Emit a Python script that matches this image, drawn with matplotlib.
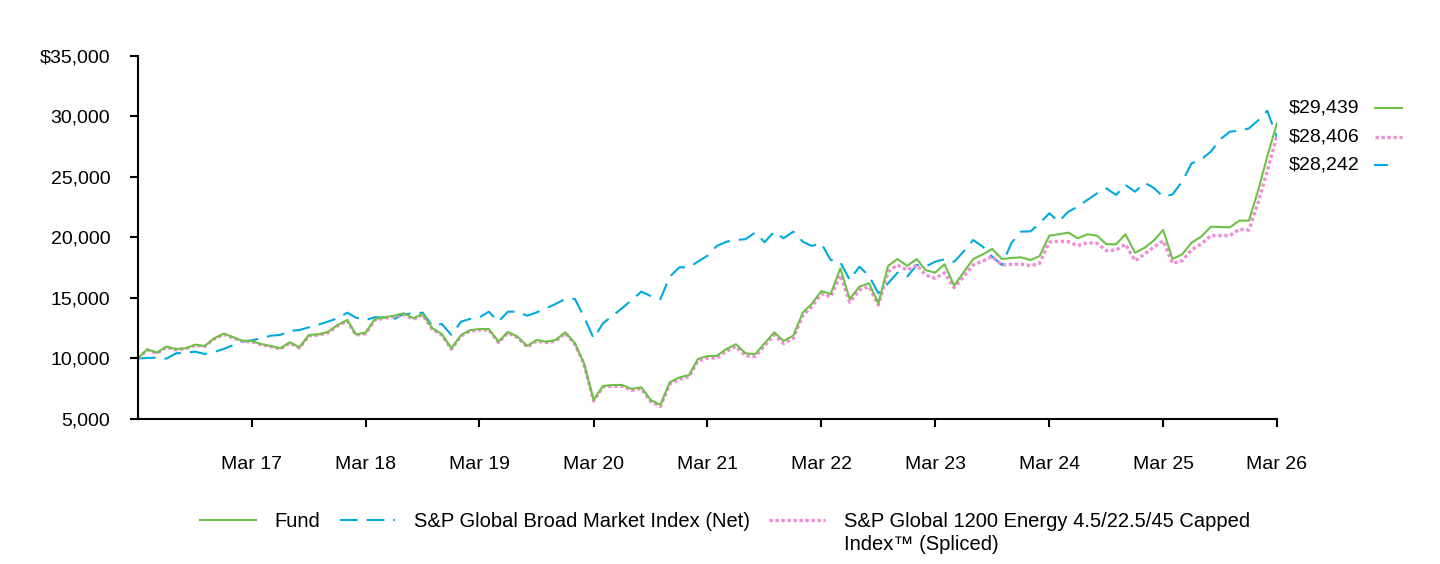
import numpy as np
import pandas as pd
import matplotlib
matplotlib.use('Agg')
import matplotlib.pyplot as plt
from matplotlib.lines import Line2D
from matplotlib.ticker import FuncFormatter

plt.rcParams['font.family'] = ['Liberation Sans', 'DejaVu Sans']

# monthly growth of $10,000, Mar 2016 - Mar 2026
months = pd.date_range('2016-03-31', periods=121, freq='ME')

fund = [
    10000, 10760, 10480, 10970, 10780, 10840, 11140, 11030, 11660, 12050,
    11750, 11470, 11440, 11190, 11030, 10840, 11330, 10920, 11940, 11990,
    12190, 12760, 13180, 11990, 12130, 13260, 13400, 13530, 13730, 13320,
    13670, 12490, 12020, 10840, 11940, 12330, 12430, 12430, 11390, 12190,
    11800, 11030, 11520, 11390, 11520, 12160, 11250, 9600, 6570, 7730,
    7810, 7810, 7480, 7620, 6570, 6160, 8030, 8440, 8630, 9950,
    10200, 10220, 10780, 11170, 10430, 10350, 11250, 12160, 11440, 11880,
    13800, 14500, 15560, 15330, 17450, 14910, 15930, 16200, 14550, 17640,
    18210, 17640, 18210, 17300, 17080, 17780, 16010, 17110, 18210, 18600,
    19040, 18210, 18300, 18350, 18130, 18460, 20140, 20250, 20390, 19920,
    20250, 20140, 19430, 19430, 20250, 18730, 19150, 19720, 20610, 18210,
    18600, 19560, 20060, 20880, 20850, 20830, 21380, 21380, 24000, 26700,
    29439,
]

broad_market = [
    10000, 10040, 10060, 9980, 10420, 10480, 10560, 10370, 10530, 10780,
    11110, 11380, 11500, 11660, 11880, 11940, 12270, 12350, 12570, 12790,
    13040, 13320, 13780, 13370, 13180, 13400, 13380, 13260, 13650, 13730,
    13780, 12680, 12850, 11940, 13040, 13260, 13400, 13860, 13040, 13860,
    13860, 13530, 13800, 14140, 14500, 14910, 14910, 13450, 11660, 12900,
    13530, 14140, 14830, 15520, 15160, 14890, 16750, 17530, 17530, 17990,
    18490, 19290, 19640, 19780, 19850, 20400, 19600, 20470, 19920, 20470,
    19640, 19290, 19510, 18130, 17950, 16480, 17580, 16810, 15380, 16200,
    17080, 16750, 17720, 17580, 17990, 18190, 17990, 18820, 19780, 19230,
    18400, 17720, 19510, 20470, 20500, 21160, 21990, 21300, 22120, 22530,
    23090, 23640, 24050, 23500, 24330, 23770, 24510, 24100, 23360, 23550,
    24600, 26110, 26440, 27080, 28100, 28730, 28810, 29000, 29690, 30460,
    28242,
]

energy_spliced = [
    10000, 10700, 10430, 10920, 10730, 10790, 11090, 10980, 11600, 11990,
    11690, 11410, 11380, 11130, 10970, 10780, 11270, 10860, 11870, 11920,
    12120, 12690, 13100, 11920, 12060, 13180, 13320, 13450, 13650, 13240,
    13590, 12410, 11940, 10760, 11860, 12250, 12350, 12350, 11310, 12110,
    11720, 10950, 11440, 11310, 11440, 12080, 11170, 9520, 6480, 7640,
    7720, 7700, 7370, 7500, 6450, 6030, 7880, 8290, 8470, 9780,
    10030, 10050, 10600, 10990, 10230, 10150, 11050, 11950, 11230, 11660,
    13560, 14260, 15330, 15100, 16890, 14640, 15650, 15930, 14410, 17160,
    17720, 17300, 17720, 16890, 16620, 17080, 15840, 16750, 17720, 18050,
    18410, 17720, 17780, 17800, 17660, 17860, 19600, 19680, 19640, 19310,
    19560, 19510, 18900, 18950, 19430, 18070, 18630, 19180, 19720, 17860,
    18070, 18960, 19450, 20140, 20140, 20140, 20660, 20610, 23000, 25500,
    28406,
]

series_names = [
    'Fund',
    'S&P Global Broad Market Index (Net)',
    'S&P Global 1200 Energy 4.5/22.5/45 Capped',
]
spliced_second_line = 'Index\u2122 (Spliced)'
end_labels = ['$29,439', '$28,406', '$28,242']
x_tick_labels = ['Mar 17', 'Mar 18', 'Mar 19', 'Mar 20', 'Mar 21',
                 'Mar 22', 'Mar 23', 'Mar 24', 'Mar 25', 'Mar 26']
y_ticks = [5000, 10000, 15000, 20000, 25000, 30000, 35000]

GREEN = '#6DC146'
BLUE = '#00A9E0'
PINK = '#F48BD8'

fig = plt.figure(figsize=(14.4, 5.64), dpi=100)
ax = fig.add_axes([0.0958, 0.2571, 0.7910, 0.6441])

ax.plot(months, broad_market, color=BLUE, linewidth=1.5,
        dashes=(8.5, 4.3), label=series_names[1])
ax.plot(months, energy_spliced, color=PINK, linewidth=2.4,
        dashes=(1, 0.8), label=series_names[2])
ax.plot(months, fund, color=GREEN, linewidth=1.5, label=series_names[0])

ax.set_xlim(months[0], months[-1])
ax.set_ylim(5000, 35000)
ax.set_yticks(y_ticks)
ax.yaxis.set_major_formatter(FuncFormatter(
    lambda v, pos: f'${v:,.0f}' if v == 35000 else f'{v:,.0f}'))
ax.set_xticks(months[12::12])
ax.set_xticklabels(x_tick_labels)

for side in ['top', 'right']:
    ax.spines[side].set_visible(False)
for side in ['left', 'bottom']:
    ax.spines[side].set_linewidth(1.5)
ax.tick_params(axis='both', direction='out', length=6, width=1.5,
               labelsize=14, colors='black')
ax.tick_params(axis='x', pad=21)
ax.tick_params(axis='y', pad=14)

# ending values at the right
end_y = [0.856, 0.776, 0.699]
end_styles = [
    dict(color=GREEN, linewidth=1.5, x1=1.1097),
    dict(color=PINK, linewidth=2.4, dashes=(1, 0.8), x1=1.1097),
    dict(color=BLUE, linewidth=1.5, x1=1.0966),
]
for label, y, style in zip(end_labels, end_y, end_styles):
    ax.text(1.0105, y, label, transform=ax.transAxes, fontsize=14,
            va='center', ha='left')
    style = dict(style)
    x1 = style.pop('x1')
    ax.add_line(Line2D([1.086, x1], [y, y], transform=ax.transAxes,
                       clip_on=False, **style))

# legend along the bottom
handles, labels = ax.get_legend_handles_labels()
order = [2, 0, 1]
leg = fig.legend([handles[i] for i in order], [labels[i] for i in order],
                 loc='center', bbox_to_anchor=(0.5035, 0.0745), ncol=3,
                 frameon=False, fontsize=14.5, handlelength=2.75,
                 handletextpad=0.95, columnspacing=0.95, borderpad=0)

fig.canvas.draw()
bb = leg.get_texts()[2].get_window_extent()
fig.text(bb.x0 / fig.bbox.width, (bb.y0 - 23) / fig.bbox.height,
         spliced_second_line, fontsize=14.5, ha='left', va='bottom')

plt.savefig('out.png', dpi=100)
